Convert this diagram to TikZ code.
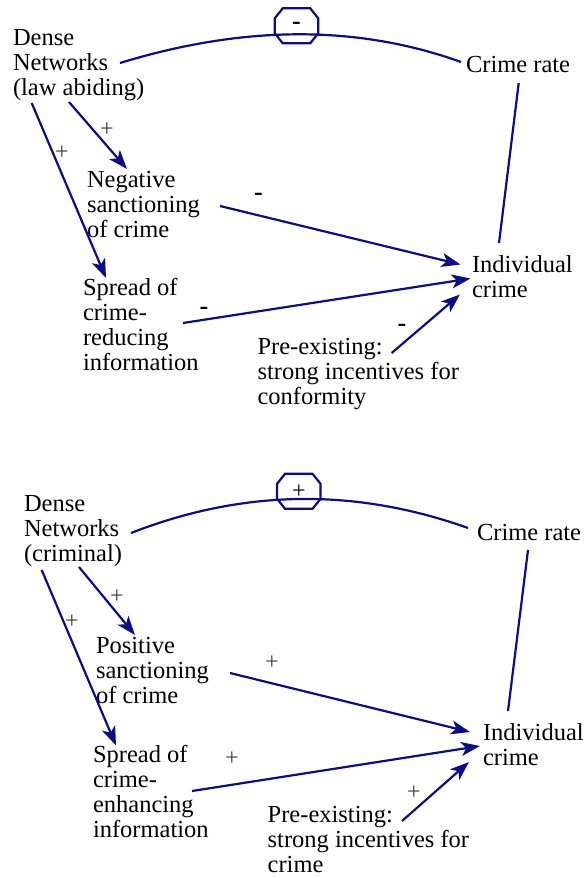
\documentclass[tikz,border=0pt]{standalone}
\usepackage{fontspec}
\setmainfont{Liberation Serif}
\usetikzlibrary{arrows.meta}
\definecolor{linkblue}{RGB}{12,12,136}

% octagonal sign marker drawn around a named node
\newcommand\octoutline[1]{%
  \draw[link] ([xshift=8pt]#1.north west) -- ([xshift=-8pt]#1.north east)
    -- ([yshift=-10pt]#1.north east) -- ([yshift=10pt]#1.south east)
    -- ([xshift=-8pt]#1.south east) -- ([xshift=8pt]#1.south west)
    -- ([yshift=10pt]#1.south west) -- ([yshift=-10pt]#1.north west) -- cycle;}

\begin{document}
\begin{tikzpicture}[x=1pt,y=-1pt,
  every node/.style={inner sep=0pt,outer sep=0pt},
  concept/.style={anchor=north west,align=left,font=\fontsize{24.5}{25}\selectfont},
  link/.style={draw=linkblue,line width=2.2pt},
  causal/.style={link,-{Stealth[length=19pt,width=14pt,inset=5pt]}},
  plus/.style={font=\fontsize{24}{24}\selectfont,text=black!75},
  minus/.style={font=\fontsize{26}{26}\selectfont\bfseries},
  signbox/.style={minimum width=43.5pt,minimum height=35pt}]
\useasboundingbox (0,0) rectangle (585,878);

% ---------- law-abiding networks ----------
\node[concept] (dnT)  at (13,27.5)    {\strut Dense\\Networks\\(law abiding)};
\node[concept] (crT)  at (466,54.5)   {\strut Crime rate};
\node[concept] (negT) at (87,169.5)   {\strut Negative\\sanctioning\\of crime};
\node[concept] (sprT) at (83,277.5)   {\strut Spread of\\crime-\\reducing\\information};
\node[concept] (preT) at (257.5,336.5){\strut Pre-existing:\\strong incentives for\\conformity};
\node[concept] (indT) at (472,254.5)  {\strut Individual\\crime};

\draw[link] ([shift={(107,35.5)}]dnT.north west)
  .. controls +(123.7,-37.9) and +(-103.7,-37.3) .. ([shift={(-5,7.5)}]crT.north west);
\node[signbox,minus] (octT) at (296.5,25.8) {-};
\octoutline{octT}

\draw[link]   ([shift={(52.7,28.5)}]crT.north west) -- ([shift={(27,-11.5)}]indT.north west);
\draw[causal] ([shift={(56,74.5)}]dnT.north west)   -- ([shift={(40,-0.5)}]negT.north west);
\draw[causal] ([shift={(18.7,75.5)}]dnT.north west) -- ([shift={(23,0.5)}]sprT.north west);
\draw[causal] ([shift={(133,36.5)}]negT.north west) -- ([shift={(-11.5,10)}]indT.north west);
\draw[causal] ([shift={(100,45.5)}]sprT.north west) -- ([shift={(-1.5,24)}]indT.north west);
\draw[causal] ([shift={(134.2,16.5)}]preT.north west) -- ([shift={(-12,40)}]indT.north west);

\node[plus]  (sT1) at (107,130)   {+};
\node[plus]  (sT2) at (62,153)    {+};
\node[minus] (sT3) at (258.5,197) {-};
\node[minus] (sT4) at (204,311)   {-};
\node[minus] (sT5) at (402,328)   {-};

% ---------- criminal networks ----------
\node[concept] (dnB)  at (24,494.2)   {\strut Dense\\Networks\\(criminal)};
\node[concept] (crB)  at (477,522.5)  {\strut Crime rate};
\node[concept] (posB) at (96,635.5)   {\strut Positive\\sanctioning\\of crime};
\node[concept] (sprB) at (93,744.5)   {\strut Spread of\\crime-\\enhancing\\information};
\node[concept] (preB) at (267.7,804.5){\strut Pre-existing:\\strong incentives for\\crime};
\node[concept] (indB) at (483,722.5)  {\strut Individual\\crime};

\draw[link] ([shift={(107,38.8)}]dnB.north west)
  .. controls +(111.7,-43.7) and +(-113,-40.3) .. ([shift={(-9,5.5)}]crB.north west);
\node[signbox,plus,text=black] (octB) at (298.8,491.3) {+};
\octoutline{octB}

\draw[link]   ([shift={(51,27.5)}]crB.north west) -- ([shift={(25,-11.5)}]indB.north west);
\draw[causal] ([shift={(55,72.8)}]dnB.north west)   -- ([shift={(39,-0.5)}]posB.north west);
\draw[causal] ([shift={(17.7,75.8)}]dnB.north west) -- ([shift={(23,1)}]sprB.north west);
\draw[causal] ([shift={(134,37.5)}]posB.north west) -- ([shift={(-13,9.5)}]indB.north west);
\draw[causal] ([shift={(99,46.5)}]sprB.north west)  -- ([shift={(-3,23.5)}]indB.north west);
\draw[causal] ([shift={(134.3,16.5)}]preB.north west) -- ([shift={(-14,39.5)}]indB.north west);

\node[plus] (sB1) at (117,597) {+};
\node[plus] (sB2) at (72,622)  {+};
\node[plus] (sB3) at (272,663) {+};
\node[plus] (sB4) at (232,759) {+};
\node[plus] (sB5) at (414,793) {+};
\end{tikzpicture}
\end{document}
